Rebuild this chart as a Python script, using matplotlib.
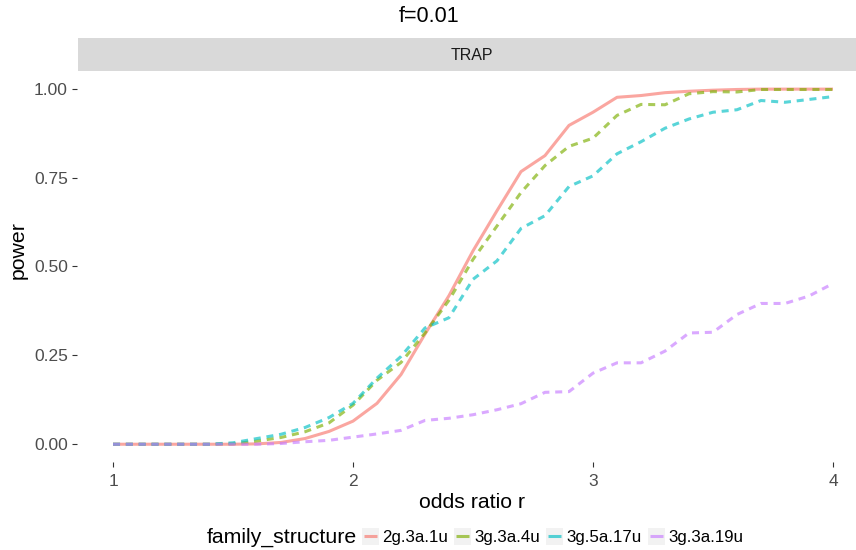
import matplotlib
matplotlib.use("Agg")
import matplotlib.pyplot as plt
from matplotlib.lines import Line2D
from matplotlib.patches import Rectangle
from matplotlib.legend_handler import HandlerLine2D
import numpy as np

plt.rcParams['font.family'] = ['Liberation Sans', 'DejaVu Sans']

# odds ratio grid
odds_ratio = [1.0, 1.1, 1.2, 1.3, 1.4, 1.5, 1.6, 1.7, 1.8, 1.9, 2.0,
              2.1, 2.2, 2.3, 2.4, 2.5, 2.6, 2.7, 2.8, 2.9, 3.0,
              3.1, 3.2, 3.3, 3.4, 3.5, 3.6, 3.7, 3.8, 3.9, 4.0]

power_2g_3a_1u = [0.0, 0.0, 0.0, 0.0, 0.0, 0.0, 0.001, 0.005, 0.016, 0.036, 0.065,
                  0.115, 0.196, 0.310, 0.418, 0.544, 0.657, 0.767, 0.812, 0.897, 0.934,
                  0.976, 0.981, 0.989, 0.993, 0.996, 0.998, 0.999, 0.999, 0.999, 0.999]
power_3g_3a_4u = [0.0, 0.0, 0.0, 0.0, 0.0, 0.001, 0.009, 0.019, 0.035, 0.060, 0.110,
                  0.180, 0.230, 0.313, 0.405, 0.520, 0.614, 0.708, 0.784, 0.838, 0.861,
                  0.925, 0.956, 0.955, 0.986, 0.992, 0.991, 0.998, 0.998, 0.998, 0.998]
power_3g_5a_17u = [0.0, 0.0, 0.0, 0.0, 0.0, 0.004, 0.016, 0.028, 0.047, 0.075, 0.115,
                   0.186, 0.247, 0.327, 0.356, 0.464, 0.516, 0.607, 0.643, 0.725, 0.755,
                   0.817, 0.851, 0.889, 0.915, 0.934, 0.941, 0.967, 0.962, 0.970, 0.978]
power_3g_3a_19u = [0.0, 0.0, 0.0, 0.0, 0.0, 0.0, 0.0, 0.002, 0.007, 0.011, 0.020,
                   0.029, 0.039, 0.067, 0.073, 0.083, 0.097, 0.114, 0.146, 0.148, 0.200,
                   0.229, 0.229, 0.262, 0.313, 0.315, 0.365, 0.396, 0.396, 0.417, 0.452]

structures = ['2g.3a.1u', '3g.3a.4u', '3g.5a.17u', '3g.3a.19u']
series = [power_2g_3a_1u, power_3g_3a_4u, power_3g_5a_17u, power_3g_3a_19u]
colors = ['#F8766D', '#7CAE00', '#00BFC4', '#C77CFF']
styles = ['solid', 'dashed', 'dashed', 'dashed']

x_ticks = [1, 2, 3, 4]
y_ticks = [0.0, 0.25, 0.5, 0.75, 1.0]
y_tick_labels = ['0.00', '0.25', '0.50', '0.75', '1.00']

W, H = 856, 550
fig = plt.figure(figsize=(W / 100, H / 100), dpi=100)

# panel in pixel coordinates
pl, pr, pt, pb = 77, 869, 71, 462
ax = fig.add_axes([pl / W, 1 - pb / H, (pr - pl) / W, (pb - pt) / H])
ax.set_facecolor('white')
for s in ax.spines.values():
    s.set_visible(False)

LW = 2.2
ALPHA = 0.65
for vals, c, ls, name in zip(series, colors, styles, structures):
    line, = ax.plot(odds_ratio, vals, color=c, lw=LW, alpha=ALPHA,
                    linestyle=ls, label=name, solid_capstyle='butt')
    if ls == 'dashed':
        line.set_dashes([2.3, 1.9])

xr = 4 - 1
ax.set_xlim(1 - 0.05 * xr, 4 + 0.05 * xr)
ax.set_ylim(-0.05, 1.05)
ax.set_xticks(x_ticks)
ax.set_xticklabels([str(t) for t in x_ticks])
ax.set_yticks(y_ticks)
ax.set_yticklabels(y_tick_labels)
ax.tick_params(axis='both', length=3.5, width=0.8, color='#333333',
               labelcolor='#4D4D4D', labelsize=12.5, pad=3)
ax.tick_params(axis='x', pad=5)

# axis titles (y title centred over panel + strip)
fig.text(472 / W, 1 - 502 / H, 'odds ratio r', ha='center', va='center',
         fontsize=15.3, color='black')
fig.text(18 / W, 1 - 250 / H, 'power', ha='center', va='center',
         rotation=90, fontsize=15.3, color='black')

# facet strip
strip_top = 38
fig.patches.append(Rectangle((78 / W, 1 - pt / H), (pr - 78) / W, (pt - strip_top) / H,
                             transform=fig.transFigure, facecolor='#D9D9D9',
                             edgecolor='none', zorder=0))
fig.text(472 / W, 1 - 55 / H, 'TRAP', ha='center', va='center',
         fontsize=11.5, color='#1A1A1A')

# title
fig.text(429 / W, 1 - 17 / H, 'f=0.01', ha='center', va='center',
         fontsize=15.5, color='black')


class KeyHandler(HandlerLine2D):
    def create_artists(self, legend, orig_handle, xdescent, ydescent,
                       width, height, fontsize, trans):
        size = width
        y0 = -ydescent + height / 2 - size / 2
        bg = Rectangle((-xdescent, y0), size, size, facecolor='#F2F2F2',
                       edgecolor='none', transform=trans)
        seg = Line2D([-xdescent + 1.5, -xdescent + width - 1.5],
                     [y0 + size / 2] * 2, color=orig_handle.get_color(),
                     lw=LW, alpha=ALPHA, solid_capstyle='butt', transform=trans)
        return [bg, seg]


handles = ax.get_lines()
leg = fig.legend(handles=handles, labels=structures, ncol=4, frameon=False,
                 loc='center left', bbox_to_anchor=(362 / W, 1 - 537 / H),
                 handler_map={Line2D: KeyHandler()}, fontsize=12.2,
                 handlelength=1.0, handleheight=1.0, handletextpad=0.2,
                 columnspacing=0.35, borderpad=0.0, borderaxespad=0.0)
fig.text(357 / W, 1 - 537 / H, 'family_structure', ha='right', va='center',
         fontsize=15.3, color='black')

fig.savefig('out.png', dpi=100)
